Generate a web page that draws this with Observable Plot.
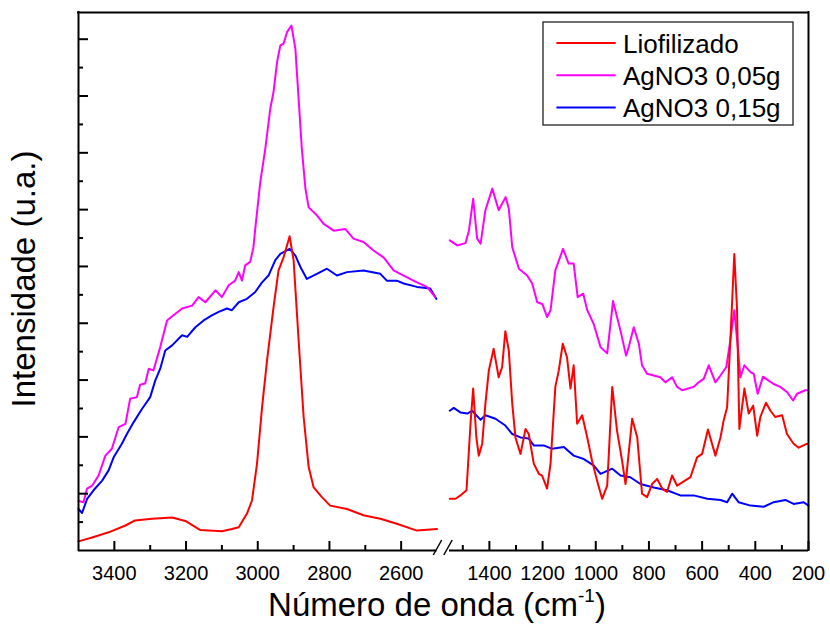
<!DOCTYPE html>
<html>
<head>
<meta charset="utf-8">
<script src="https://cdn.jsdelivr.net/npm/d3@7"></script>
<script src="https://cdn.jsdelivr.net/npm/@observablehq/plot@0.6"></script>
<style>
  body { margin: 0; background: #fff; }
</style>
</head>
<body>
<div id="chart"></div>
<script>
// Raman spectra, intensity in arbitrary units, wavenumber in cm-1.
// The x axis is broken: 3500–2500 on the left, 1550–200 on the right.
const series = ["Liofilizado", "AgNO3 0,05g", "AgNO3 0,15g"];
const seriesColors = ["#ff0000", "#ff00ff", "#0000ff"];

const highRange = [3500, 2500];
const lowRange = [1550, 200];

const xTicksMajor = [3400, 3200, 3000, 2800, 2600, 1400, 1200, 1000, 800, 600, 400, 200];
const xTicksMinor = [3300, 3100, 2900, 2700, 1500, 1300, 1100, 900, 700, 500, 300];
const yTicksMajor = [1, 2, 3, 4, 5, 6, 7, 8, 9];
const yTicksMinor = [0.5, 1.5, 2.5, 3.5, 4.5, 5.5, 6.5, 7.5, 8.5];
const yMax = 9.47;

const xTitle = "Número de onda (cm";
const xTitleSup = "-1";
const yTitle = "Intensidade (u.a.)";

// [wavenumber, intensity]
const liofilizadoHigh = [
  [3500,0.16],[3462,0.23],[3416,0.32],[3369,0.44],[3342,0.53],[3295,0.56],[3239,0.58],[3202,0.52],
  [3160,0.36],[3100,0.34],[3072,0.38],[3053,0.41],[3030,0.65],[3016,0.88],[3002,1.53],[2988,2.52],
  [2974,3.35],[2956,4.28],[2942,4.93],[2928,5.16],[2911,5.53],[2900,5.11],[2886,3.70],[2872,2.35],
  [2858,1.47],[2844,1.11],[2821,0.94],[2798,0.79],[2751,0.73],[2705,0.62],[2658,0.56],[2612,0.47],
  [2556,0.35],[2500,0.38]
];
const liofilizadoLow = [
  [1549,0.91],[1527,0.91],[1509,0.97],[1486,1.06],[1471,2.23],[1461,2.85],[1449,1.99],[1440,1.67],
  [1427,1.88],[1415,2.58],[1402,3.17],[1384,3.55],[1365,3.05],[1352,3.23],[1340,3.86],[1327,3.52],
  [1314,2.58],[1302,1.99],[1283,1.70],[1264,2.14],[1252,2.05],[1233,1.53],[1214,1.35],[1202,1.32],
  [1183,1.09],[1170,1.53],[1152,2.88],[1139,3.17],[1124,3.64],[1108,3.40],[1095,2.85],[1083,3.26],
  [1070,2.23],[1051,2.38],[1032,1.99],[1014,1.58],[995,1.23],[976,0.91],[957,1.14],[938,2.88],
  [920,2.11],[901,1.58],[888,1.17],[863,2.32],[844,1.99],[826,1.00],[807,0.94],[788,1.17],
  [769,1.26],[750,1.09],[732,1.03],[713,1.32],[694,1.14],[675,1.20],[644,1.29],[619,1.64],
  [600,1.70],[578,2.13],[550,1.67],[531,1.99],[519,2.29],[506,2.52],[491,3.99],[479,5.22],
  [469,4.28],[460,2.14],[441,2.85],[425,2.41],[408,2.55],[393,2.02],[381,2.35],[360,2.60],
  [343,2.46],[325,2.35],[299,2.38],[281,2.05],[256,1.88],[237,1.81],[205,1.88]
];

const agno3005High = [
  [3500,0.87],[3486,0.85],[3476,1.09],[3462,1.14],[3444,1.32],[3425,1.67],[3407,1.79],[3388,2.17],
  [3369,2.23],[3356,2.67],[3337,2.70],[3328,2.92],[3314,2.94],[3304,3.20],[3291,3.17],[3272,3.58],
  [3253,4.05],[3235,4.14],[3211,4.26],[3183,4.31],[3165,4.46],[3146,4.37],[3118,4.58],[3100,4.46],
  [3081,4.67],[3063,4.75],[3053,4.90],[3044,4.75],[3035,5.02],[3021,5.08],[3012,5.34],[3007,5.66],
  [2993,6.48],[2979,7.07],[2965,7.78],[2956,8.07],[2946,8.60],[2937,8.89],[2928,8.92],[2918,9.13],
  [2906,9.24],[2895,8.83],[2886,7.95],[2877,7.07],[2867,6.37],[2858,6.04],[2835,5.90],[2816,5.75],
  [2788,5.63],[2756,5.66],[2733,5.49],[2705,5.43],[2677,5.28],[2649,5.16],[2621,4.93],[2593,4.84],
  [2556,4.72],[2528,4.64],[2505,4.46]
];
const agno3005Low = [
  [1549,5.46],[1521,5.37],[1490,5.41],[1477,5.63],[1461,6.19],[1446,5.49],[1433,5.40],[1415,5.99],
  [1389,6.37],[1365,5.99],[1339,6.22],[1327,6.02],[1314,5.34],[1289,4.96],[1258,4.84],[1239,4.70],
  [1220,4.37],[1201,4.34],[1183,4.11],[1170,4.23],[1152,4.93],[1123,5.31],[1102,5.05],[1083,5.05],
  [1068,4.46],[1047,4.52],[1032,4.23],[1008,3.99],[982,3.58],[957,3.47],[935,4.39],[907,3.87],
  [886,3.43],[876,3.58],[857,3.93],[838,3.64],[826,3.26],[807,3.11],[757,3.05],[738,2.96],
  [713,3.05],[694,2.88],[675,2.82],[632,2.88],[613,2.96],[594,3.02],[575,3.26],[550,2.96],
  [531,3.08],[509,3.23],[494,3.70],[479,4.23],[466,3.58],[456,3.05],[441,3.26],[418,3.14],
  [406,3.11],[391,2.76],[371,3.06],[350,2.99],[331,2.93],[306,2.88],[281,2.79],[258,2.64],
  [243,2.76],[212,2.82],[200,2.82]
];

const agno3015High = [
  [3500,0.73],[3490,0.66],[3476,0.91],[3458,1.06],[3434,1.23],[3416,1.41],[3402,1.64],[3379,1.88],
  [3365,2.05],[3346,2.26],[3323,2.49],[3300,2.70],[3286,2.99],[3272,3.20],[3258,3.52],[3239,3.61],
  [3211,3.79],[3197,3.76],[3174,3.93],[3151,4.05],[3128,4.14],[3109,4.20],[3086,4.26],[3072,4.23],
  [3053,4.37],[3030,4.43],[3007,4.55],[2988,4.72],[2970,4.84],[2951,5.11],[2937,5.22],[2911,5.31],
  [2895,5.19],[2881,4.99],[2863,4.78],[2835,4.87],[2807,4.96],[2779,4.84],[2751,4.90],[2705,4.93],
  [2658,4.87],[2640,4.75],[2612,4.75],[2593,4.70],[2556,4.64],[2519,4.61],[2502,4.43]
];
const agno3015Low = [
  [1549,2.46],[1534,2.51],[1509,2.43],[1483,2.41],[1465,2.46],[1433,2.30],[1415,2.38],[1377,2.32],
  [1340,2.20],[1314,2.05],[1283,1.99],[1252,1.97],[1233,1.85],[1196,1.85],[1164,1.79],[1120,1.82],
  [1083,1.67],[1045,1.61],[1008,1.50],[982,1.35],[938,1.44],[907,1.32],[870,1.29],[832,1.17],
  [782,1.11],[732,1.06],[682,0.97],[632,0.97],[581,0.91],[531,0.89],[506,0.85],[487,1.00],
  [463,0.85],[418,0.79],[368,0.77],[331,0.85],[287,0.89],[256,0.82],[218,0.85],[200,0.79]
];

// Long-form table; blue first, red last so red is drawn on top.
const spectra = [
  [series[2], agno3015High, agno3015Low],
  [series[1], agno3005High, agno3005Low],
  [series[0], liofilizadoHigh, liofilizadoLow]
];
const rows = [];
for (const [name, high, low] of spectra) {
  for (const [w, i] of high) rows.push({serie: name, key: name + " alto", w, i});
  for (const [w, i] of low) rows.push({serie: name, key: name + " baixo", w, i});
}

const font = "'Liberation Sans', Arial, sans-serif";

// Axis break marks, axis titles and the boxed legend.
function decorations(index, {x, y}) {
  const g = d3.create("svg:g").attr("font-family", font).attr("fill", "#000");

  const cy = y(0);
  const br = g.append("g").attr("stroke", "#000").attr("stroke-width", 1.5);
  for (const cx of [x(highRange[1]) + 1, x(lowRange[0]) - 1]) {
    br.append("line")
      .attr("x1", cx - 4.2).attr("y1", cy + 5)
      .attr("x2", cx + 4.2).attr("y2", cy - 10);
  }

  const xt = g.append("text")
    .attr("x", (x(highRange[0]) + x(lowRange[1])) / 2 - 6)
    .attr("y", cy + 66)
    .attr("text-anchor", "middle")
    .attr("font-size", 33)
    .text(xTitle);
  xt.append("tspan").attr("dy", -14).attr("font-size", 19).text(xTitleSup);
  xt.append("tspan").attr("dy", 14).text(")");

  g.append("text")
    .attr("transform", `translate(35,${(y(0) + y(yMax)) / 2 - 2}) rotate(-90)`)
    .attr("text-anchor", "middle")
    .attr("font-size", 33)
    .text(yTitle);

  const lw = 250, lh = 103;
  const lx = x(lowRange[1]) - 15 - lw;
  const ly = y(yMax) + 10;
  const lg = g.append("g").attr("transform", `translate(${lx},${ly})`);
  lg.append("rect").attr("width", lw).attr("height", lh)
    .attr("fill", "#fff").attr("stroke", "#222").attr("stroke-width", 1.3);
  series.forEach((name, k) => {
    const ry = 21 + k * 32.2;
    lg.append("line").attr("x1", 13.4).attr("x2", 72.7).attr("y1", ry).attr("y2", ry)
      .attr("stroke", seriesColors[k]).attr("stroke-width", 2);
    lg.append("text").attr("x", 80).attr("y", ry + 9.5)
      .attr("text-anchor", "start").attr("font-size", 26).text(name);
  });
  return g.node();
}

const chart = Plot.plot({
  width: 830,
  height: 625,
  marginTop: 12,
  marginBottom: 75,
  marginLeft: 78,
  marginRight: 22,
  style: {fontFamily: font, background: "#fff", color: "#000"},
  x: {type: "linear", domain: [highRange[0], highRange[1], lowRange[0], lowRange[1]], range: [78, 436.5, 449, 808]},
  y: {domain: [0, yMax]},
  color: {domain: series, range: seriesColors},
  marks: [
    Plot.line(rows, {x: "w", y: "i", z: "key", stroke: "serie", strokeWidth: 2, strokeLinejoin: "round"}),
    Plot.ruleX([highRange[0], lowRange[1]], {stroke: "#000", strokeWidth: 2, strokeLinecap: "square"}),
    Plot.ruleY([yMax], {stroke: "#000", strokeWidth: 2, strokeLinecap: "square"}),
    Plot.ruleY([highRange, lowRange], {x1: d => d[0], x2: d => d[1], y: 0, stroke: "#000", strokeWidth: 2}),
    Plot.axisX(xTicksMajor, {anchor: "bottom", tickSize: -9, strokeWidth: 2, tickFormat: () => "", label: null}),
    Plot.axisX(xTicksMinor, {anchor: "bottom", tickSize: -5, strokeWidth: 2, tickFormat: () => "", label: null}),
    Plot.axisX(xTicksMajor, {anchor: "bottom", tickSize: 0, tickPadding: 15, fontSize: 20, tickFormat: d => String(d), label: null}),
    Plot.axisY(yTicksMajor, {anchor: "left", tickSize: -10, strokeWidth: 2, tickFormat: () => "", label: null}),
    Plot.axisY(yTicksMinor, {anchor: "left", tickSize: -5, strokeWidth: 2, tickFormat: () => "", label: null}),
    decorations
  ]
});

document.getElementById("chart").append(chart);
</script>
</body>
</html>
